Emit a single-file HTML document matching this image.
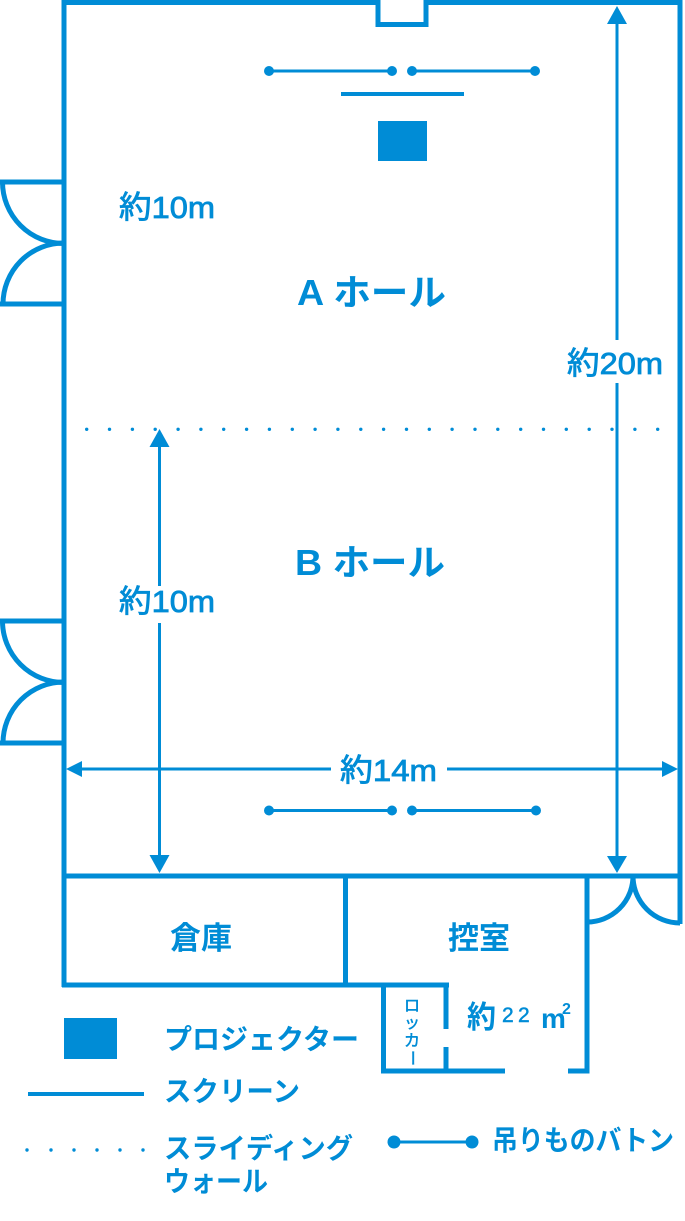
<!DOCTYPE html>
<html>
<head>
<meta charset="utf-8">
<style>
  html,body{margin:0;padding:0;background:#fff;}
  svg{display:block;}
  text{font-family:"Liberation Sans","Noto Sans CJK JP",sans-serif;fill:#008cd6;}
  .b{font-weight:bold;}
  .m{stroke:#008cd6;stroke-width:0.8px;}
</style>
</head>
<body>
<svg width="685" height="1221" viewBox="0 0 685 1221" xmlns="http://www.w3.org/2000/svg">
  <g fill="none" stroke="#008cd6" stroke-width="5">
    <path d="M64,2.5 H378 V24.5 H426 V2.5 H680"/>
    <path d="M64,0 V987"/>
    <path d="M680,0 V924"/>
    <path d="M62,876 H682"/>
    <path d="M62,985 H449"/>
    <path d="M345.5,876 V985"/>
    <path d="M587,876 V1073.5"/>
    <path d="M568,1071 H589"/>
    <path d="M383.5,985 V1071 H505"/>
    <path d="M446,983 V1029"/>
    <path d="M446,1047 V1071"/>
    <path d="M0,182 H64"/>
    <path d="M0,304 H64"/>
    <path d="M2.5,182 A61.5,61.5 0 0 0 64,243.5"/>
    <path d="M64,243 A61,61 0 0 0 3,304"/>
    <path d="M0,621 H64"/>
    <path d="M0,743 H64"/>
    <path d="M2.5,621 A61.5,61.5 0 0 0 64,682.5"/>
    <path d="M64,682 A61,61 0 0 0 3,743"/>
    <path d="M587,922 A46,46 0 0 0 633,876"/>
    <path d="M633,876 A47,47 0 0 0 680,923"/>
  </g>

  <g fill="#008cd6">
    <circle cx="86.7" cy="429.3" r="1.7"/><circle cx="109.5" cy="429.3" r="1.7"/><circle cx="132.4" cy="429.3" r="1.7"/><circle cx="155.2" cy="429.3" r="1.7"/><circle cx="178.1" cy="429.3" r="1.7"/><circle cx="200.9" cy="429.3" r="1.7"/><circle cx="223.7" cy="429.3" r="1.7"/><circle cx="246.6" cy="429.3" r="1.7"/><circle cx="269.4" cy="429.3" r="1.7"/><circle cx="292.3" cy="429.3" r="1.7"/><circle cx="315.1" cy="429.3" r="1.7"/><circle cx="337.9" cy="429.3" r="1.7"/><circle cx="360.8" cy="429.3" r="1.7"/><circle cx="383.6" cy="429.3" r="1.7"/><circle cx="406.5" cy="429.3" r="1.7"/><circle cx="429.3" cy="429.3" r="1.7"/><circle cx="452.1" cy="429.3" r="1.7"/><circle cx="475.0" cy="429.3" r="1.7"/><circle cx="497.8" cy="429.3" r="1.7"/><circle cx="520.7" cy="429.3" r="1.7"/><circle cx="543.5" cy="429.3" r="1.7"/><circle cx="566.3" cy="429.3" r="1.7"/><circle cx="589.2" cy="429.3" r="1.7"/><circle cx="612.0" cy="429.3" r="1.7"/><circle cx="634.9" cy="429.3" r="1.7"/><circle cx="657.7" cy="429.3" r="1.7"/>
  </g>

  <g stroke="#008cd6" stroke-width="3" fill="#008cd6">
    <path d="M269,71 H392 M412,71 H535"/>
    <circle cx="269" cy="71" r="5" stroke="none"/><circle cx="392" cy="71" r="5" stroke="none"/><circle cx="412" cy="71" r="5" stroke="none"/><circle cx="535" cy="71" r="5" stroke="none"/>
    <path d="M269,810.5 H392 M412,810.5 H536"/>
    <circle cx="269" cy="810.5" r="5" stroke="none"/><circle cx="392" cy="810.5" r="5" stroke="none"/><circle cx="412" cy="810.5" r="5" stroke="none"/><circle cx="536" cy="810.5" r="5" stroke="none"/>
  </g>

  <rect x="341" y="92" width="123" height="4" fill="#008cd6"/>
  <rect x="378" y="121" width="49" height="40" fill="#008cd6"/>

  <g stroke="#008cd6" stroke-width="3" fill="none">
    <path d="M617,22 V340 M617,383 V859"/>
    <path d="M159.5,445 V586 M159.5,623 V857"/>
    <path d="M80,769 H331 M447,769 H665"/>
  </g>
  <g fill="#008cd6">
    <polygon points="617,6 607,24 627,24"/>
    <polygon points="617,873 607,856 627,856"/>
    <polygon points="159.5,429 149.5,447 169.5,447"/>
    <polygon points="159.5,873 149.5,855 169.5,855"/>
    <polygon points="66,769 82,761 82,777"/>
    <polygon points="678,769 662,761 662,777"/>
  </g>

  <text class="b" x="297" y="305" font-size="36" textLength="149" lengthAdjust="spacingAndGlyphs">A ホール</text>
  <text class="b" x="295" y="575" font-size="36" textLength="150" lengthAdjust="spacingAndGlyphs">B ホール</text>
  <text class="m" x="119" y="218" font-size="31" textLength="96" lengthAdjust="spacingAndGlyphs">約10m</text>
  <text class="m" x="119" y="612" font-size="31" textLength="96" lengthAdjust="spacingAndGlyphs">約10m</text>
  <text class="m" x="567" y="374" font-size="31" textLength="96" lengthAdjust="spacingAndGlyphs">約20m</text>
  <text class="m" x="340" y="781" font-size="31" textLength="97" lengthAdjust="spacingAndGlyphs">約14m</text>

  <text class="b" x="170" y="949" font-size="31" textLength="62" lengthAdjust="spacingAndGlyphs">倉庫</text>
  <text class="b" x="448" y="949" font-size="31" textLength="62" lengthAdjust="spacingAndGlyphs">控室</text>

  <text class="b" x="467" y="1028" font-size="31" textLength="29" lengthAdjust="spacingAndGlyphs">約</text>
  <text class="m" x="502" y="1022" font-size="21" style="stroke-width:0.5px">2</text>
  <text class="m" x="518" y="1022" font-size="21" style="stroke-width:0.5px">2</text>
  <text class="b" x="541" y="1028" font-size="28">m</text>
  <text class="b" x="562" y="1014" font-size="16">2</text>

  <text class="m" x="412" y="1011" font-size="16" text-anchor="middle" style="stroke-width:0.5px">ロ</text>
  <text class="m" x="412" y="1028" font-size="16" text-anchor="middle" style="stroke-width:0.5px">ッ</text>
  <text class="m" x="412" y="1046" font-size="16" text-anchor="middle" style="stroke-width:0.5px">カ</text>
  <text class="m" x="412" y="1058" font-size="16" text-anchor="middle" transform="rotate(90 412 1058)" dy="5" style="stroke-width:0.5px">ー</text>

  <rect x="64" y="1018" width="53" height="41" fill="#008cd6"/>
  <text class="b" x="164" y="1049" font-size="28" textLength="195" lengthAdjust="spacingAndGlyphs">プロジェクター</text>
  <rect x="28" y="1092" width="116" height="4" fill="#008cd6"/>
  <text class="b" x="164" y="1101" font-size="28" textLength="136" lengthAdjust="spacingAndGlyphs">スクリーン</text>
  <g fill="#008cd6">
    <circle cx="27" cy="1150" r="1.7"/><circle cx="51" cy="1150" r="1.7"/><circle cx="74" cy="1150" r="1.7"/><circle cx="97" cy="1150" r="1.7"/><circle cx="120" cy="1150" r="1.7"/><circle cx="143" cy="1150" r="1.7"/>
  </g>
  <text class="b" x="164" y="1158" font-size="28" textLength="189" lengthAdjust="spacingAndGlyphs">スライディング</text>
  <text class="b" x="164" y="1191" font-size="28" textLength="104" lengthAdjust="spacingAndGlyphs">ウォール</text>
  <path d="M394,1142 H472" stroke="#008cd6" stroke-width="3"/>
  <circle cx="394" cy="1142" r="6.5" fill="#008cd6"/>
  <circle cx="472" cy="1142" r="6.5" fill="#008cd6"/>
  <text class="b" x="492" y="1150" font-size="28" textLength="182" lengthAdjust="spacingAndGlyphs">吊りものバトン</text>
</svg>
</body>
</html>
